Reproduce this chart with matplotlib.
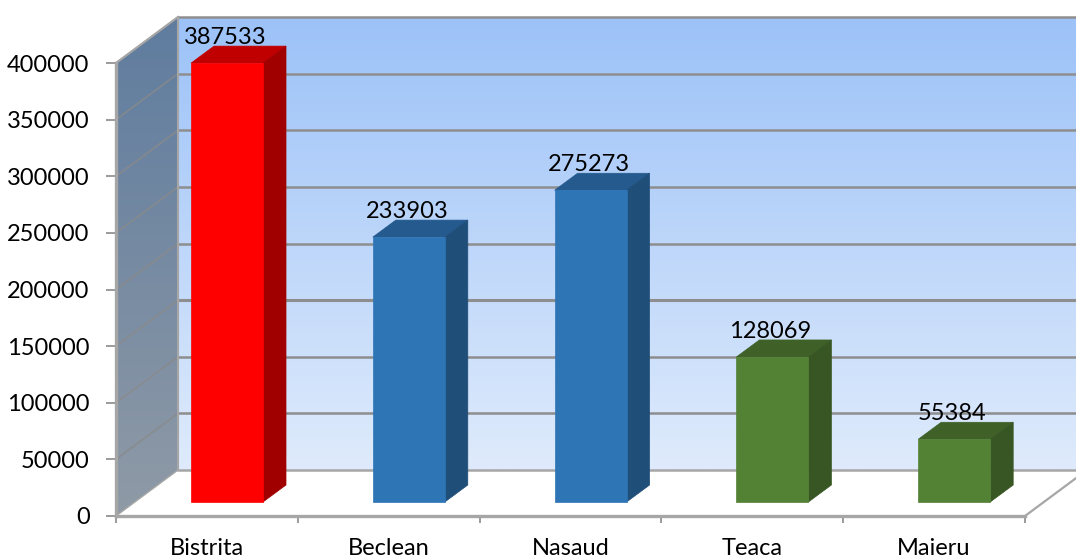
import numpy as np
import matplotlib
matplotlib.use("Agg")
import matplotlib.pyplot as plt
from matplotlib.patches import Polygon
from matplotlib.colors import LinearSegmentedColormap

categories = ["Bistrita", "Beclean", "Nasaud", "Teaca", "Maieru"]
values = [387533, 233903, 275273, 128069, 55384]
yticks = [0, 50000, 100000, 150000, 200000, 250000, 300000, 350000, 400000]
front = ["#FF0000", "#2E75B6", "#2E75B6", "#548235", "#548235"]
top = ["#C00000", "#245A8E", "#245A8E", "#3F6128", "#3F6128"]
side = ["#A00000", "#1F4E79", "#1F4E79", "#375623", "#375623"]

plt.rcParams["font.family"] = ["Lato", "DejaVu Sans"]
W, H = 1076, 558
fig = plt.figure(figsize=(W / 100, H / 100), dpi=100, facecolor="white")
ax = fig.add_axes([116 / W, (H - 516) / H, 909 / W, 453 / H])
ax.set_xlim(0, 5)
ax.set_ylim(0, 400000)
ax.patch.set_alpha(0)

PX = 5 / 909
PY = 400000 / 453
DX, DY = 62 * PX, 46 * PY          # depth of the 3-D box
BX, BY = 75 * PX, 14 * PY          # bar offset within its slot
BW = 72 * PX                       # bar width
SX, SY = 23 * PX, 17 * PY          # bar depth
GRID = "#8E8E8E"
EDGE = "#A6A6A6"
FS = 17

ymax = 400000
# back wall
wall_cmap = LinearSegmentedColormap.from_list("wall", ["#DFEBFC", "#9CC2F8"])
im = ax.imshow(np.linspace(1, 0, 256).reshape(-1, 1), cmap=wall_cmap, aspect="auto",
               extent=(DX, 5 + DX, DY, ymax + DY), zorder=1, clip_on=False)
# side wall
side_cmap = LinearSegmentedColormap.from_list("side", ["#8F9AA6", "#5F7C9F"])
im2 = ax.imshow(np.linspace(1, 0, 256).reshape(-1, 1), cmap=side_cmap, aspect="auto",
                extent=(0, DX, 0, ymax + DY), zorder=1, clip_on=False)
clip = Polygon([(0, 0), (DX, DY), (DX, ymax + DY), (0, ymax)], transform=ax.transData,
               fc="none", ec="none", clip_on=False)
ax.add_patch(clip)
im2.set_clip_on(True)
im2.set_clip_box(fig.bbox)
im2.set_clip_path(clip)
ax.set_xlim(0, 5)
ax.set_ylim(0, 400000)

# floor
ax.add_patch(Polygon([(0, 0), (DX, DY), (5 + DX, DY), (5, 0)], fc="white", ec="none",
                     zorder=1.5, clip_on=False))
ax.plot([5, 5 + DX], [0, DY], color=EDGE, lw=1.6, zorder=2, clip_on=False)

# gridlines on back wall and side wall
for v in yticks:
    lw = 2.2 if v == 150000 else 1.8
    ax.plot([DX, 5 + DX], [v + DY, v + DY], color=GRID if v else EDGE, lw=lw, zorder=2, clip_on=False)
    if v:
        ax.plot([0, DX], [v, v + DY], color="#8A8A8A", lw=1.2, alpha=0.8, zorder=2, clip_on=False)
ax.plot([DX, DX], [DY, ymax + DY], color=EDGE, lw=1.5, zorder=2, clip_on=False)
ax.plot([0, DX], [ymax, ymax + DY], color=EDGE, lw=1.5, zorder=2, clip_on=False)
ax.plot([0, DX], [0, DY], color=EDGE, lw=1.0, zorder=2, clip_on=False)

# bars
for i, v in enumerate(values):
    x0 = i + BX
    x1 = x0 + BW
    y0 = BY
    y1 = BY + v
    ax.add_patch(Polygon([(x0, y1), (x1, y1), (x1 + SX, y1 + SY), (x0 + SX, y1 + SY)],
                         fc=top[i], ec=top[i], lw=0.5, zorder=3, clip_on=False))
    ax.add_patch(Polygon([(x1, y0), (x1 + SX, y0 + SY), (x1 + SX, y1 + SY), (x1, y1)],
                         fc=side[i], ec=side[i], lw=0.5, zorder=3, clip_on=False))
    ax.add_patch(Polygon([(x0, y0), (x1, y0), (x1, y1), (x0, y1)],
                         fc=front[i], ec=front[i], lw=0.5, zorder=4, clip_on=False))
    ax.text((x0 + x1) / 2 - 2 * PX, y1 + 25.5 * PY, str(v), ha="center", va="center",
            fontsize=FS, color="black", zorder=6, clip_on=False)

# axes
for s in ("top", "right"):
    ax.spines[s].set_visible(False)
for s in ("left", "bottom"):
    ax.spines[s].set_color(EDGE)
    ax.spines[s].set_linewidth(2.4)
    ax.spines[s].set_zorder(5)
ax.set_yticks(yticks)
ax.set_yticklabels([str(v) for v in yticks], fontsize=FS, color="black")
ax.tick_params(axis="y", length=7, width=1.2, color="#8A8A8A", pad=12)
ax.set_xticks(range(6))
ax.set_xticklabels([""] * 6)
ax.tick_params(axis="x", which="major", length=5, width=1.2, color="#8A8A8A")
ax.set_xticks(np.arange(5) + 0.5, minor=True)
ax.set_xticklabels(categories, minor=True, fontsize=FS, color="black")
ax.tick_params(axis="x", which="minor", length=0, pad=16)

fig.savefig("out.png", dpi=100, facecolor="white")
